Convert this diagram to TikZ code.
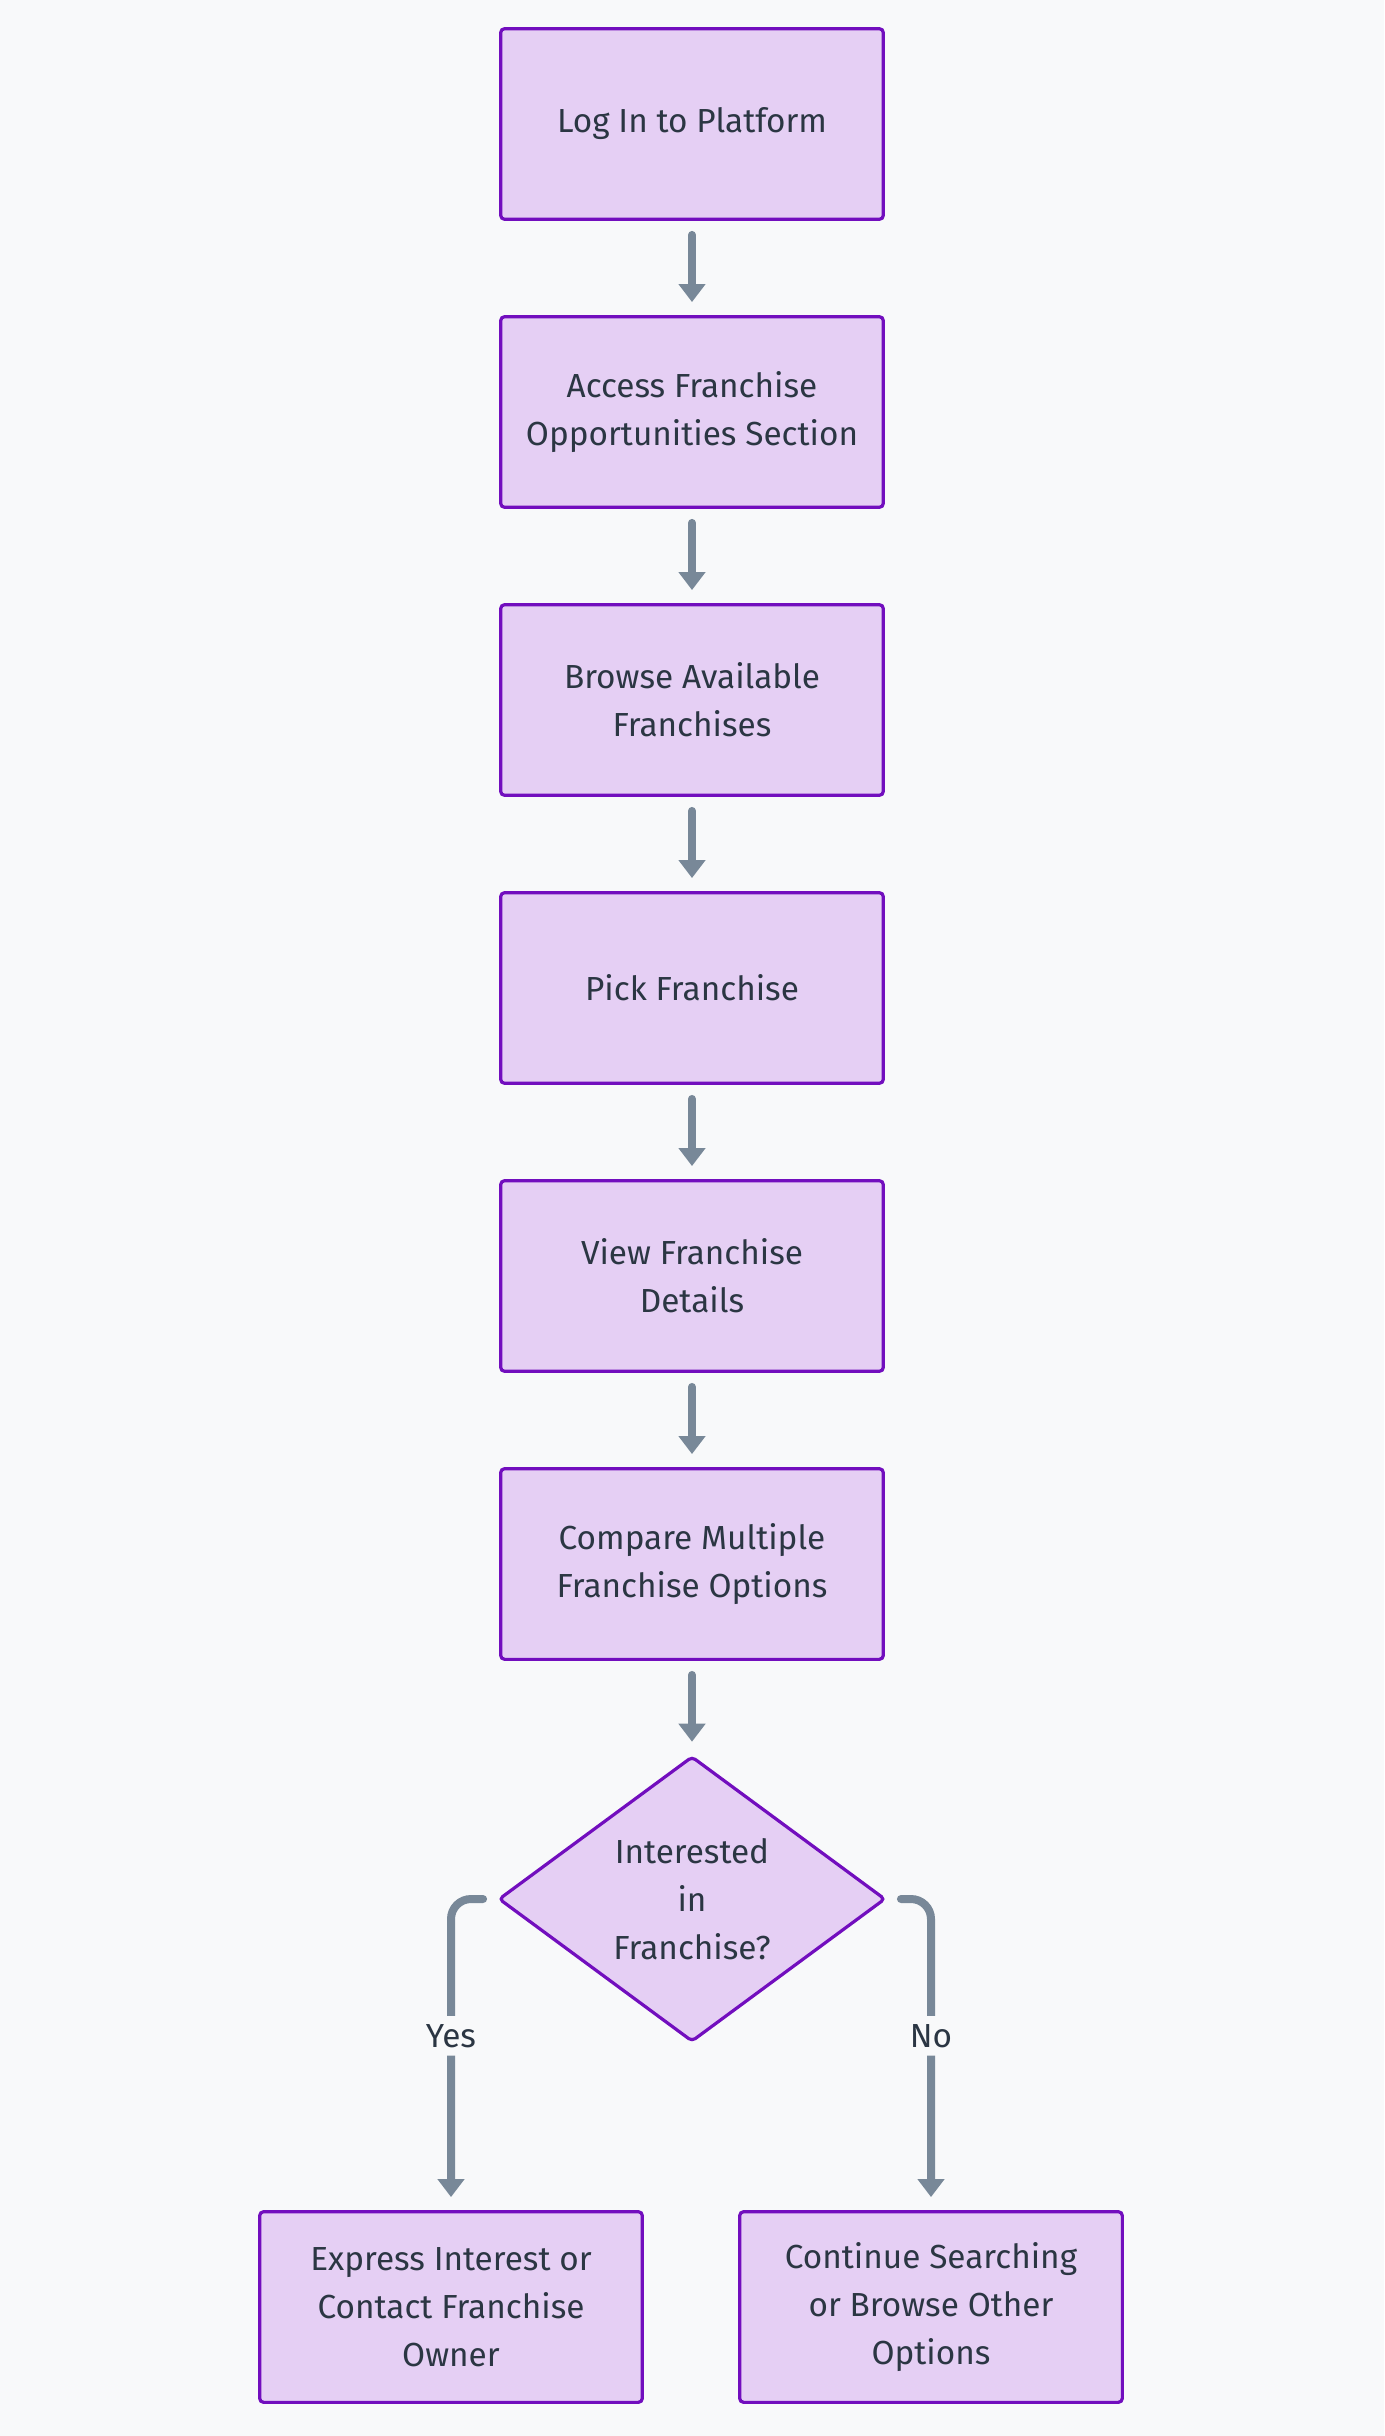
\documentclass[tikz,border=0pt]{standalone}
\usepackage{fontspec}
\setmainfont{Fira Sans}
\usetikzlibrary{arrows.meta,shapes.geometric}

\definecolor{bgcol}{RGB}{248,249,250}
\definecolor{boxfill}{RGB}{229,207,244}
\definecolor{boxline}{RGB}{114,14,190}
\definecolor{flowgray}{RGB}{120,136,152}
\definecolor{txtcol}{RGB}{43,54,67}

\tikzset{every picture/.style={line width=0.75pt}}
\tikzset{
  procbox/.style={draw=boxline, fill=boxfill, line width=2.4pt, rounded corners=3pt,
    minimum width=287pt, minimum height=143pt, align=center, text=txtcol,
    font=\fontsize{25}{36}\selectfont},
  decbox/.style={diamond, draw=boxline, fill=boxfill, line width=2.4pt, rounded corners=3pt,
    minimum width=290pt, minimum height=214pt, inner sep=0pt, aspect=1.33, align=center,
    text=txtcol, font=\fontsize{25}{36}\selectfont},
  flowarrow/.style={draw=flowgray, line width=6pt, line cap=round,
    -{Triangle[width=19.5pt,length=13.5pt]}, shorten <=10.5pt, shorten >=9.75pt},
  branchlabel/.style={fill=bgcol, text=txtcol, inner sep=6pt, font=\fontsize{25}{36}\selectfont}
}

\begin{document}
\begin{tikzpicture}[x=0.75pt,y=0.75pt,yscale=-1,xscale=1]
        %Background
        \fill [bgcol] (0,0) rectangle (1384,2436);
        \useasboundingbox (0,0) rectangle (1384,2436);

        %Shape: Rectangle
        \node [procbox] (login) at (692,124) {Log In to Platform};
        %Shape: Rectangle
        \node [procbox] (access) at (692,412) {Access Franchise\\Opportunities Section};
        %Shape: Rectangle
        \node [procbox] (browse) at (692,700) {Browse Available\\Franchises};
        %Shape: Rectangle
        \node [procbox] (pick) at (692,988) {Pick Franchise};
        %Shape: Rectangle
        \node [procbox] (view) at (692,1276) {View Franchise\\Details};
        %Shape: Rectangle
        \node [procbox] (compare) at (692,1564) {Compare Multiple\\Franchise Options};
        %Shape: Diamond
        \node [decbox] (interest) at (692,1899) {Interested\\in\\Franchise?};
        %Shape: Rectangle
        \node [procbox] (express) at (451,2307) {Express Interest or\\Contact Franchise\\Owner};
        %Shape: Rectangle
        \node [procbox] (searching) at (931,2307) {Continue Searching\\or Browse Other\\Options};

        %Straight Lines
        \draw [flowarrow] (login) -- (access);
        \draw [flowarrow] (access) -- (browse);
        \draw [flowarrow] (browse) -- (pick);
        \draw [flowarrow] (pick) -- (view);
        \draw [flowarrow] (view) -- (compare);
        \draw [flowarrow] (compare) -- (interest);

        %Curve Lines
        \draw [flowarrow, rounded corners=15pt] (interest.west) -| node [pos=0.72, branchlabel] {Yes} (express.north);
        \draw [flowarrow, rounded corners=15pt] (interest.east) -| node [pos=0.72, branchlabel] {No} (searching.north);

\end{tikzpicture}
\end{document}
